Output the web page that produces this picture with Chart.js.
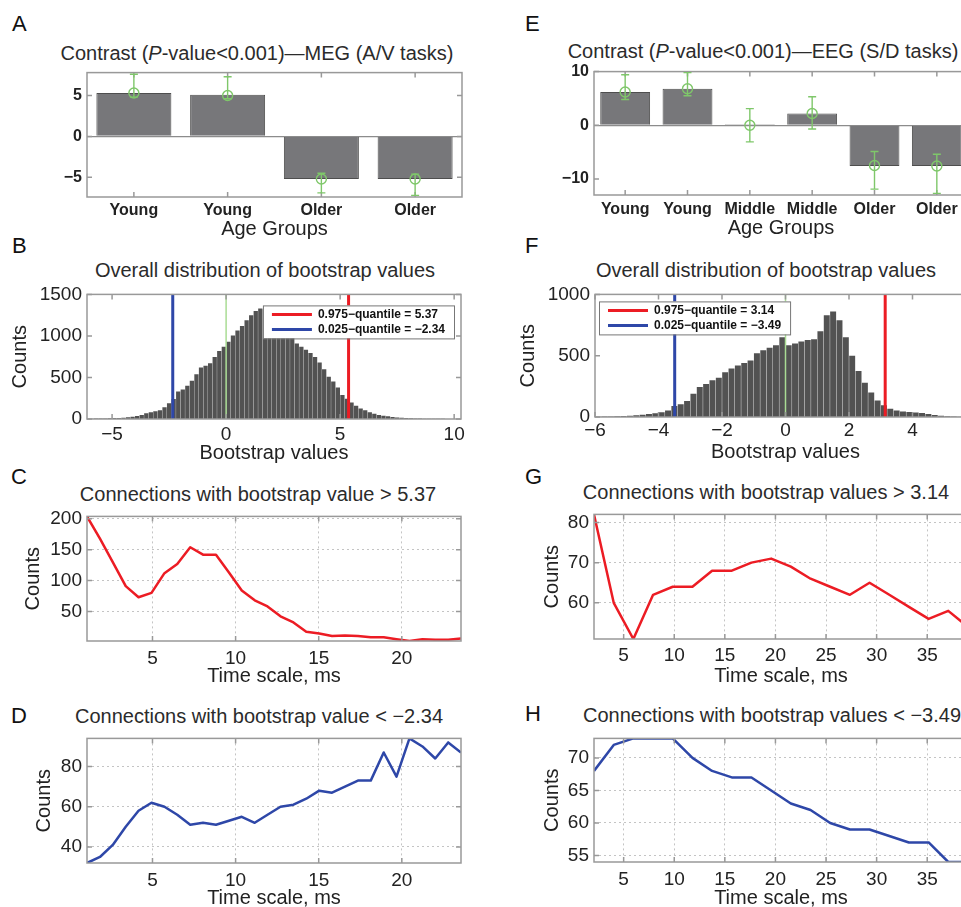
<!DOCTYPE html>
<html>
<head>
<meta charset="utf-8">
<title>Bootstrap contrasts</title>
<script src="https://cdn.jsdelivr.net/npm/chart.js@4.4.1/dist/chart.umd.min.js"></script>
<style>
  html, body { margin: 0; padding: 0; width: 961px; height: 907px; overflow: hidden; background: #fff; }
  body { position: relative; font-family: "Liberation Sans", Arial, Helvetica, sans-serif; }
  canvas { position: absolute; }
  .letter { position: absolute; font-size: 22px; line-height: 22px; color: #111; }
  .title { position: absolute; width: 500px; text-align: center; font-size: 20px; line-height: 20px; color: #2b2b2b; white-space: nowrap; }
</style>
</head>
<body>
<div class="letter" style="left:12px;top:13px">A</div>
<div class="letter" style="left:12px;top:235px">B</div>
<div class="letter" style="left:11px;top:466px">C</div>
<div class="letter" style="left:11px;top:705px">D</div>
<div class="letter" style="left:525px;top:13px">E</div>
<div class="letter" style="left:525px;top:235px">F</div>
<div class="letter" style="left:525px;top:466px">G</div>
<div class="letter" style="left:525px;top:703px">H</div>

<div class="title" style="left:7px;top:43px">Contrast (<i>P</i>-value&lt;0.001)—MEG (A/V tasks)</div>
<div class="title" style="left:513px;top:41px">Contrast (<i>P</i>-value&lt;0.001)—EEG (S/D tasks)</div>
<div class="title" style="left:15px;top:260px">Overall distribution of bootstrap values</div>
<div class="title" style="left:516px;top:260px">Overall distribution of bootstrap values</div>
<div class="title" style="left:8px;top:484px">Connections with bootstrap value &gt; 5.37</div>
<div class="title" style="left:516px;top:482px">Connections with bootstrap values &gt; 3.14</div>
<div class="title" style="left:9px;top:706px">Connections with bootstrap value &lt; −2.34</div>
<div class="title" style="left:522px;top:705px">Connections with bootstrap values &lt; −3.49</div>

<script>
// ---- data ----

// A: MEG contrast per group
const groupsMEG = ["Young", "Young", "Older", "Older"];
const contrastMEG = [5.3, 5.1, -5.2, -5.2];
const meanMEG = [5.3, 5.0, -5.2, -5.2];
const lowMEG = [4.8, 4.6, -6.9, -7.2];
const highMEG = [7.6, 7.3, -4.5, -4.6];
const contrastTicksMEG = [-5, 0, 5];

// E: EEG contrast per group
const groupsEEG = ["Young", "Young", "Middle", "Middle", "Older", "Older"];
const contrastEEG = [6.2, 6.8, 0.2, 2.2, -7.6, -7.6];
const meanEEG = [6.2, 6.8, 0.0, 2.2, -7.5, -7.6];
const lowEEG = [4.8, 5.5, -3.1, -0.7, -11.9, -12.7];
const highEEG = [9.4, 9.8, 3.1, 5.3, -4.9, -5.4];
const contrastTicksEEG = [-10, 0, 10];

// B: histogram of bootstrap values (MEG), bins of 0.2 from -6
const binStartMEG = -6;
const binWidth = 0.2;
const histMEG = [
  4, 5, 6, 7, 9, 11, 13, 16, 20, 27,
  36, 48, 70, 82, 92, 105, 140, 190, 240, 330,
  355, 400, 460, 540, 620, 640, 670, 745, 820, 870,
  930, 1005, 1065, 1120, 1190, 1250, 1300, 1330, 1320, 1280,
  1220, 1140, 1040, 1000, 975, 910, 870, 835, 795, 745,
  680, 600, 510, 450, 380, 290, 245, 200, 160, 125,
  105, 80, 62, 48, 40, 32, 25, 18, 14, 11,
  8, 6, 5, 4, 3, 3, 2, 2, 1, 1
];
const quantHighMEG = 5.37;
const quantLowMEG = -2.34;
const bootTicksMEG = [-5, 0, 5, 10];
const histTicksMEG = [0, 500, 1000, 1500];

// F: histogram of bootstrap values (EEG), bins of 0.2 from -6
const binStartEEG = -6;
const histEEG = [
  3, 4, 5, 6, 8, 10, 14, 19, 24, 30,
  38, 52, 90, 105, 130, 190, 245, 270, 300, 320,
  365, 395, 420, 440, 460, 520, 545, 565, 585, 650,
  585, 600, 615, 628, 635, 700, 830, 860, 790, 650,
  500, 375, 280, 200, 135, 95, 68, 54, 45, 40,
  37, 32, 24, 16, 11, 7, 5, 3, 2, 1
];
const quantHighEEG = 3.14;
const quantLowEEG = -3.49;
const bootTicksEEG = [-6, -4, -2, 0, 2, 4, 6];
const histTicksEEG = [0, 500, 1000];

// C, D: connection counts vs time scale (MEG)
const timeMEG = [1.06, 1.84, 2.61, 3.39, 4.16, 4.94, 5.72, 6.49, 7.27, 8.04,
  8.82, 9.60, 10.37, 11.15, 11.92, 12.70, 13.48, 14.25, 15.03, 15.80,
  16.58, 17.36, 18.13, 18.91, 19.68, 20.46, 21.24, 22.01, 22.79, 23.56];
const aboveMEG = [204, 168, 130, 91, 73, 80, 112, 127, 154, 142,
  142, 113, 84, 68, 58, 42, 32, 17, 14, 10,
  11, 10, 8, 8, 5, 2, 5, 4, 4, 6];
const belowMEG = [32, 35, 41, 50, 58, 62, 60, 56, 51, 52,
  51, 53, 55, 52, 56, 60, 61, 64, 68, 67,
  70, 73, 73, 87, 75, 94, 90, 84, 92, 87];
const timeTicksMEG = [5, 10, 15, 20];
const aboveTicksMEG = [50, 100, 150, 200];
const belowTicksMEG = [40, 60, 80];

// G, H: connection counts vs time scale (EEG)
const timeEEG = [2.07, 4.02, 5.96, 7.91, 9.85, 11.80, 13.74, 15.69, 17.63, 19.58,
  21.52, 23.47, 25.41, 27.36, 29.30, 31.25, 33.19, 35.14, 37.08, 39.03];
const aboveEEG = [82, 60, 51, 62, 64, 64, 68, 68, 70, 71,
  69, 66, 64, 62, 65, 62, 59, 56, 58, 54];
const belowEEG = [68, 72, 73, 73, 73, 70, 68, 67, 67, 65,
  63, 62, 60, 59, 59, 58, 57, 57, 54, 54];
const timeTicksEEG = [5, 10, 15, 20, 25, 30, 35];
const aboveTicksEEG = [60, 70, 80];
const belowTicksEEG = [55, 60, 65, 70];

// ---- style ----
Chart.defaults.font.family = '"Liberation Sans", Arial, Helvetica, sans-serif';
Chart.defaults.color = "#222";
Chart.defaults.animation = false;

const ink = "#222";
const red = "#ec1c24";
const blue = "#2e47a8";
const green = "#7fc76a";
const tickFont = { size: 19 };
const boldTick = { size: 16, weight: "bold" };
const labelFont = { size: 20 };
const minus = v => String(v).replace("-", "\u2212");
const fixedTicks = values => scale => { scale.ticks = values.map(value => ({ value })); };

function makeCanvas(x, y, w, h) {
  const c = document.createElement("canvas");
  c.width = w;
  c.height = h;
  c.style.left = x + "px";
  c.style.top = y + "px";
  c.style.width = w + "px";
  c.style.height = h + "px";
  document.body.appendChild(c);
  return c.getContext("2d");
}

// axes box with inward ticks, like the original figure
const framePlugin = {
  id: "frame",
  afterDatasetsDraw(chart) {
    const { ctx, chartArea: a, scales } = chart;
    const len = 5;
    ctx.save();
    ctx.strokeStyle = "#999";
    ctx.lineWidth = 1.5;
    ctx.beginPath();
    scales.x.ticks.forEach((t, i) => {
      const px = scales.x.getPixelForTick(i);
      ctx.moveTo(px, a.bottom); ctx.lineTo(px, a.bottom - len);
      ctx.moveTo(px, a.top); ctx.lineTo(px, a.top + len);
    });
    scales.y.ticks.forEach((t, i) => {
      const py = scales.y.getPixelForTick(i);
      ctx.moveTo(a.left, py); ctx.lineTo(a.left + len, py);
      ctx.moveTo(a.right, py); ctx.lineTo(a.right - len, py);
    });
    ctx.stroke();
    ctx.strokeRect(a.left, a.top, a.right - a.left, a.bottom - a.top);
    ctx.restore();
  }
};

function errorBars(low, high) {
  return {
    id: "errorBars",
    afterDatasetsDraw(chart) {
      const { ctx, scales: { x, y } } = chart;
      ctx.save();
      ctx.strokeStyle = green;
      ctx.lineWidth = 1.4;
      low.forEach((lo, i) => {
        const px = x.getPixelForValue(i);
        const y1 = y.getPixelForValue(lo);
        const y2 = y.getPixelForValue(high[i]);
        ctx.beginPath();
        ctx.moveTo(px, y1); ctx.lineTo(px, y2);
        ctx.moveTo(px - 4, y1); ctx.lineTo(px + 4, y1);
        ctx.moveTo(px - 4, y2); ctx.lineTo(px + 4, y2);
        ctx.stroke();
      });
      ctx.restore();
    }
  };
}

function quantileLegend(align, dx, dy) {
  return {
    id: "quantileLegend",
    afterDatasetsDraw(chart) {
      const { ctx, chartArea: a } = chart;
      const items = chart.data.datasets.filter(d => d.label);
      ctx.save();
      ctx.font = 'bold 12px "Liberation Sans", Arial, sans-serif';
      const textW = Math.max(...items.map(d => ctx.measureText(d.label).width));
      const w = 9 + 40 + 6 + textW + 9;
      const h = 33;
      const left = align === "right" ? a.right - dx - w : a.left + dx;
      const top = a.top + dy;
      ctx.fillStyle = "#fff";
      ctx.fillRect(left, top, w, h);
      ctx.strokeStyle = "#777";
      ctx.lineWidth = 1;
      ctx.strokeRect(left + 0.5, top + 0.5, w, h);
      items.forEach((d, i) => {
        const yy = top + 9 + i * 15;
        ctx.strokeStyle = d.borderColor;
        ctx.lineWidth = 3;
        ctx.beginPath();
        ctx.moveTo(left + 9, yy);
        ctx.lineTo(left + 49, yy);
        ctx.stroke();
        ctx.fillStyle = "#111";
        ctx.textBaseline = "middle";
        ctx.fillText(d.label, left + 55, yy);
      });
      ctx.restore();
    }
  };
}

function baseOptions(p, scales) {
  return {
    responsive: false,
    animation: false,
    layout: { padding: { top: p.padTop, right: p.padRight, left: 0, bottom: 0 } },
    plugins: { legend: { display: false }, tooltip: { enabled: false } },
    scales
  };
}

function xTitle(text, bottom) {
  return { display: true, text, font: labelFont, color: ink, padding: { top: 0, bottom } };
}

function yTitle(text, top) {
  return { display: true, text, font: labelFont, color: ink, padding: { top, bottom: 0 } };
}

// ---- bar panels (A, E) ----
function contrastChart(p, groups, values, means, low, high, yTicks) {
  const ctx = makeCanvas(p.x, p.y, p.w, p.h);
  new Chart(ctx, {
    type: "bar",
    data: {
      labels: groups,
      datasets: [
        {
          type: "line", data: means, showLine: false, order: 0,
          pointRadius: 5, pointBorderWidth: 1.4,
          pointBorderColor: green, pointBackgroundColor: "rgba(0,0,0,0)"
        },
        {
          data: values, order: 1,
          backgroundColor: "#77777a", borderColor: "#4e4e4e", borderWidth: 1,
          barPercentage: 0.8, categoryPercentage: 1
        }
      ]
    },
    options: baseOptions(p, {
      x: {
        type: "category", offset: true,
        ticks: { font: boldTick, color: ink, padding: p.xTickPad },
        grid: { display: false, drawTicks: false, offset: true },
        border: { display: false },
        title: xTitle("Age Groups", p.xTitlePad),
        afterFit: s => { s.height = p.xHeight; }
      },
      y: {
        min: p.yMin, max: p.yMax,
        ticks: { font: boldTick, color: ink, padding: 5, callback: minus },
        afterBuildTicks: fixedTicks(yTicks),
        grid: {
          drawTicks: false, lineWidth: 1.2,
          color: c => (c.tick && c.tick.value === 0 ? "#8c8c8c" : "rgba(0,0,0,0)")
        },
        border: { display: false },
        afterFit: s => { s.width = p.yWidth; }
      }
    }),
    plugins: [framePlugin, errorBars(low, high)]
  });
}

// ---- histogram panels (B, F) ----
function histogramChart(p, binStart, counts, qHigh, qLow, xTicks, yTicks, legendPlugin) {
  const ctx = makeCanvas(p.x, p.y, p.w, p.h);
  const bins = counts.map((c, i) => ({ x: binStart + binWidth * (i + 0.5), y: c }));
  const yMax = yTicks[yTicks.length - 1];
  const vline = (x, color, width, label) => ({
    type: "line", label, order: 0,
    data: [{ x, y: 0 }, { x, y: yMax }],
    borderColor: color, borderWidth: width, pointRadius: 0
  });
  new Chart(ctx, {
    type: "bar",
    data: {
      datasets: [
        vline(qHigh, red, 3, "0.975\u2212quantile = " + minus(qHigh)),
        vline(qLow, blue, 3, "0.025\u2212quantile = " + minus(qLow)),
        vline(0, "#a9dc94", 1.5, ""),
        {
          data: bins, order: 1,
          backgroundColor: "#525252", borderWidth: 0,
          barPercentage: 0.94, categoryPercentage: 1
        }
      ]
    },
    options: baseOptions(p, {
      x: {
        type: "linear", offset: false, min: p.xMin, max: p.xMax,
        ticks: { font: tickFont, color: ink, padding: p.xTickPad, callback: minus },
        afterBuildTicks: fixedTicks(xTicks),
        grid: { display: false, drawTicks: false, offset: false },
        border: { display: false },
        title: xTitle("Bootstrap values", p.xTitlePad),
        afterFit: s => { s.height = p.xHeight; }
      },
      y: {
        min: 0, max: yMax,
        ticks: { font: tickFont, color: ink, padding: 5, callback: minus },
        afterBuildTicks: fixedTicks(yTicks),
        grid: { display: false, drawTicks: false },
        border: { display: false },
        title: yTitle("Counts", p.yTitlePad),
        afterFit: s => { s.width = p.yWidth; }
      }
    }),
    plugins: [framePlugin, legendPlugin]
  });
}

// ---- time scale panels (C, D, G, H) ----
function countsChart(p, times, counts, color, xTicks, yTicks) {
  const ctx = makeCanvas(p.x, p.y, p.w, p.h);
  const dotted = { display: true, drawTicks: false, color: "#c4c4c4", lineWidth: 1 };
  new Chart(ctx, {
    type: "line",
    data: {
      datasets: [{
        data: times.map((t, i) => ({ x: t, y: counts[i] })),
        borderColor: color, borderWidth: 2.5, pointRadius: 0, tension: 0,
        borderJoinStyle: "round"
      }]
    },
    options: baseOptions(p, {
      x: {
        type: "linear", min: times[0], max: times[times.length - 1],
        ticks: { font: tickFont, color: ink, padding: p.xTickPad, callback: minus },
        afterBuildTicks: fixedTicks(xTicks),
        grid: dotted,
        border: { display: false, dash: [2, 3] },
        title: xTitle("Time scale, ms", p.xTitlePad),
        afterFit: s => { s.height = p.xHeight; }
      },
      y: {
        min: Math.min(...counts), max: Math.max(...counts),
        ticks: { font: tickFont, color: ink, padding: 5, callback: minus },
        afterBuildTicks: fixedTicks(yTicks),
        grid: dotted,
        border: { display: false, dash: [2, 3] },
        title: yTitle("Counts", p.yTitlePad),
        afterFit: s => { s.width = p.yWidth; }
      }
    }),
    plugins: [framePlugin]
  });
}

contrastChart(
  { x: 0, y: 58, w: 480, h: 184, padTop: 14, padRight: 18, yWidth: 87, xHeight: 45,
    xTickPad: 4, xTitlePad: 1, yMin: -7.4, yMax: 7.8 },
  groupsMEG, contrastMEG, meanMEG, lowMEG, highMEG, contrastTicksMEG);

contrastChart(
  { x: 480, y: 57, w: 500, h: 185, padTop: 14, padRight: 12, yWidth: 114, xHeight: 47,
    xTickPad: 5, xTitlePad: 2, yMin: -13, yMax: 10 },
  groupsEEG, contrastEEG, meanEEG, lowEEG, highEEG, contrastTicksEEG);

histogramChart(
  { x: 0, y: 278, w: 480, h: 187, padTop: 15, padRight: 19, yWidth: 87, xHeight: 46,
    xTickPad: 4, xTitlePad: 0, yTitlePad: 8, xMin: -6.1, xMax: 10.3 },
  binStartMEG, histMEG, quantHighMEG, quantLowMEG, bootTicksMEG, histTicksMEG,
  quantileLegend("right", 7, 11));

histogramChart(
  { x: 480, y: 278, w: 510, h: 187, padTop: 15, padRight: 14, yWidth: 115, xHeight: 48,
    xTickPad: 2, xTitlePad: 1, yTitlePad: 36, xMin: -6, xMax: 6 },
  binStartEEG, histEEG, quantHighEEG, quantLowEEG, bootTicksEEG, histTicksEEG,
  quantileLegend("left", 4, 7));

countsChart(
  { x: 0, y: 500, w: 480, h: 190, padTop: 16, padRight: 19, yWidth: 87, xHeight: 49,
    xTickPad: 6, xTitlePad: 2, yTitlePad: 21 },
  timeMEG, aboveMEG, red, timeTicksMEG, aboveTicksMEG);

countsChart(
  { x: 0, y: 722, w: 480, h: 193, padTop: 16, padRight: 19, yWidth: 87, xHeight: 52,
    xTickPad: 6, xTitlePad: 5, yTitlePad: 32 },
  timeMEG, belowMEG, blue, timeTicksMEG, belowTicksMEG);

countsChart(
  { x: 480, y: 498, w: 510, h: 192, padTop: 15, padRight: 22, yWidth: 114, xHeight: 51,
    xTickPad: 5, xTitlePad: 2, yTitlePad: 60 },
  timeEEG, aboveEEG, red, timeTicksEEG, aboveTicksEEG);

countsChart(
  { x: 480, y: 722, w: 510, h: 193, padTop: 15, padRight: 22, yWidth: 114, xHeight: 53,
    xTickPad: 6, xTitlePad: 5, yTitlePad: 60 },
  timeEEG, belowEEG, blue, timeTicksEEG, belowTicksEEG);
</script>
</body>
</html>
